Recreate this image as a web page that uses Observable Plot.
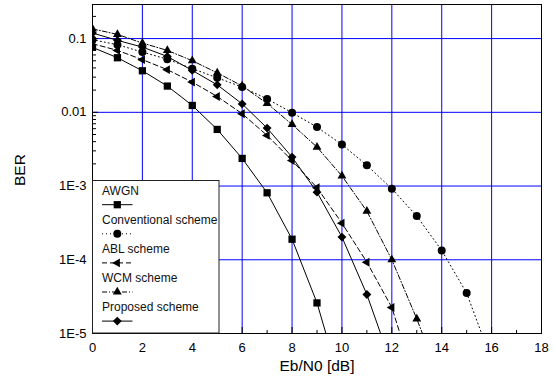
<!DOCTYPE html>
<html>
<head>
<meta charset="utf-8">
<script src="https://cdn.jsdelivr.net/npm/d3@7"></script>
<script src="https://cdn.jsdelivr.net/npm/@observablehq/plot@0.6"></script>
<style>
  html, body { margin: 0; padding: 0; background: #fff; }
  #chart svg { display: block; }
</style>
</head>
<body>
<div id="chart"></div>
<script>
// ---- data ----
const snr = [0,1,2,3,4,5,6,7,8,9,10,11,12,13,14,15,16];
const seriesNames = ["AWGN", "Conventional scheme", "ABL scheme", "WCM scheme", "Proposed scheme"];
const berAWGN = [0.076, 0.055, 0.0366, 0.0227, 0.0124, 0.00586, 0.00237, 0.00081, 1.9e-4, 2.6e-5, 1.8e-6];
const berConventional = [0.0966, 0.0826, 0.0656, 0.0525, 0.0391, 0.0294, 0.0220, 0.0152, 0.00989, 0.0063, 0.00366, 0.00191, 0.000918, 0.000391, 0.000134, 3.53e-5, 4.3e-6];
const berABL = [0.0853, 0.0692, 0.0518, 0.0379, 0.0257, 0.0164, 0.00957, 0.00486, 0.00222, 0.000949, 0.000314, 9.27e-5, 2.25e-5, 1.9e-6];
const berWCM = [0.1356, 0.114, 0.0869, 0.0692, 0.0501, 0.0343, 0.0228, 0.0132, 0.00686, 0.00337, 0.00137, 0.000456, 1.0e-4, 1.58e-5, 2.1e-6];
const berProposed = [0.119, 0.0946, 0.0767, 0.0573, 0.037, 0.0236, 0.0130, 0.00611, 0.00247, 0.000826, 0.000203, 3.38e-5, 3.7e-6];

const xTicks = [0,2,4,6,8,10,12,14,16,18];
const xTickLabels = ["0","2","4","6","8","10","12","14","16","18"];
const xGrid = [2,4,6,8,10,12,14,16];
const xMinor = [1,3,5,7,9,11,13,15,17];
const yTicks = [1e-5, 1e-4, 1e-3, 0.01, 0.1];
const yTickLabels = ["1E-5", "1E-4", "1E-3", "0.01", "0.1"];
const yGrid = [1e-4, 1e-3, 0.01, 0.1];
const yMinorMult = [2,3,4,5,6,7,8,9];
const xTitle = "Eb/N0 [dB]";
const yTitle = "BER";

// ---- symbols ----
const leftTriangle = {
  draw(ctx, size) {
    const a = Math.sqrt(size / (3 * Math.sqrt(3)));
    ctx.moveTo(-2 * a, 0);
    ctx.lineTo(a, -Math.sqrt(3) * a);
    ctx.lineTo(a, Math.sqrt(3) * a);
    ctx.closePath();
  }
};
const styles = [
  {values: berAWGN, symbol: d3.symbolSquare, r: 4.1, dash: null},
  {values: berConventional, symbol: d3.symbolCircle, r: 4, dash: "1,3"},
  {values: berABL, symbol: leftTriangle, r: 3.3, dash: "5,3"},
  {values: berWCM, symbol: d3.symbolTriangle, r: 3.3, dash: "5,2,1,2"},
  {values: berProposed, symbol: d3.symbolDiamond2, r: 4.0, dash: null}
];

const W = 555, H = 385, ML = 92, MR = 14, MT = 4, MB = 52;
const PW = W - ML - MR, PH = H - MT - MB;
const font = "'Liberation Sans', Arial, Helvetica, sans-serif";

const yMinor = [];
for (const d of [1e-5, 1e-4, 1e-3, 0.01, 0.1]) for (const m of yMinorMult) if (d * m <= 0.29) yMinor.push(d * m);

const lineMarks = [], dotMarks = [];
styles.forEach((s, k) => {
  const rows = s.values.map((v, i) => ({x: snr[i], y: v}));
  lineMarks.push(Plot.line(rows, {x: "x", y: "y", stroke: "black", strokeWidth: 1, strokeDasharray: s.dash || undefined, clip: true}));
  dotMarks.push(Plot.dot(rows, {x: "x", y: "y", symbol: () => s.symbol, r: s.r, fill: "black", stroke: "none", clip: true}));
});

const svg = Plot.plot({
  width: W, height: H,
  marginLeft: ML, marginRight: MR, marginTop: MT, marginBottom: MB,
  style: {fontFamily: font, background: "white", color: "black"},
  x: {domain: [0, 18], ticks: xTicks},
  y: {type: "log", domain: [1e-5, 0.29]},
  symbol: {type: "identity"},
  marks: [
    Plot.gridX(xGrid, {stroke: "#0000ff", strokeOpacity: 1, strokeWidth: 1}),
    Plot.gridY(yGrid, {stroke: "#0000ff", strokeOpacity: 1, strokeWidth: 1}),
    Plot.ruleX(xMinor, {x: d => d, insetTop: PH - 3, stroke: "black"}),
    Plot.ruleX(xTicks, {x: d => d, insetTop: PH - 6, stroke: "black"}),
    Plot.ruleY(yMinor, {y: d => d, insetRight: PW - 4, stroke: "black"}),
    Plot.ruleY(yTicks, {y: d => d, insetRight: PW - 6, stroke: "black"}),
    ...lineMarks,
    ...dotMarks,
    Plot.frame({stroke: "black", strokeWidth: 1}),
    Plot.axisX(xTicks, {tickSize: 0, tickPadding: 9, fontSize: 13, tickFormat: d => xTickLabels[xTicks.indexOf(d)], label: null}),
    Plot.axisY(yTicks, {tickSize: 0, tickPadding: 6, fontSize: 13, tickFormat: d => yTickLabels[yTicks.indexOf(d)], label: null}),
    Plot.text([xTitle], {frameAnchor: "bottom", dy: 37, fontSize: 15.5, text: d => d, fill: "black"}),
    Plot.text([yTitle], {frameAnchor: "left", dx: -72, dy: 17, rotate: -90, fontSize: 15.5, text: d => d, fill: "black"})
  ]
});

// ---- legend (inside the plot, lower-left) ----
const g = d3.select(svg).append("g").attr("font-family", font).attr("text-anchor", "start");
g.append("rect").attr("x", 92.5).attr("y", 180.5).attr("width", 126.5).attr("height", 152.5)
  .attr("fill", "white").attr("stroke", "#222").attr("stroke-width", 1);
styles.forEach((s, i) => {
  const ty = 190.8 + 29.1 * i;
  const sy = 204.7 + 29.1 * i;
  g.append("text").attr("x", 102).attr("y", ty).attr("dy", "0.35em")
    .attr("text-anchor", "start")
    .attr("font-size", 12).attr("fill", "#111").text(seriesNames[i]);
  const ln = g.append("line").attr("x1", 102).attr("x2", 132.5).attr("y1", sy).attr("y2", sy)
    .attr("stroke", "black").attr("stroke-width", 1);
  if (s.dash) ln.attr("stroke-dasharray", s.dash);
  g.append("path").attr("transform", `translate(117.3,${sy})`)
    .attr("d", d3.symbol().type(s.symbol).size(Math.PI * s.r * s.r)())
    .attr("fill", "black");
});

document.getElementById("chart").appendChild(svg);
</script>
</body>
</html>
